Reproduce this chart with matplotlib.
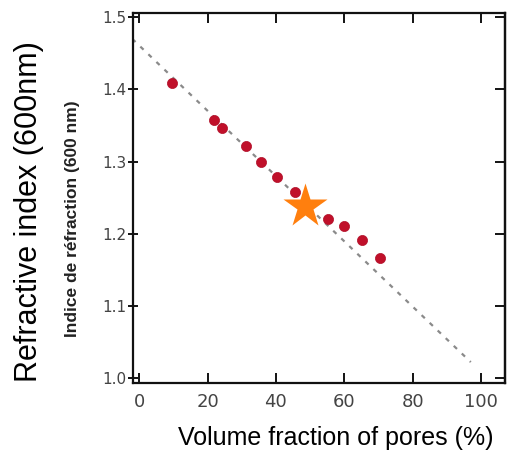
import matplotlib
matplotlib.use("Agg")
import matplotlib.pyplot as plt

# Measured porosity (%) and refractive index at 600 nm
porosity = [9.5, 22.0, 24.1, 31.2, 35.5, 40.3, 45.6, 55.2, 59.8, 65.1, 70.5]
refr_index = [1.409, 1.358, 1.347, 1.321, 1.299, 1.279, 1.258, 1.221, 1.210, 1.191, 1.166]

# Linear mixing trend line (end points)
trend_x = [-2.0, 97.0]
trend_y = [1.470, 1.022]

# Highlighted sample
star_x = [48.6]
star_y = [1.239]

x_ticks = [0, 20, 40, 60, 80, 100]
y_ticks = [1.0, 1.1, 1.2, 1.3, 1.4, 1.5]
y_tick_labels = ["1.0", "1.1", "1.2", "1.3", "1.4", "1.5"]

fig = plt.figure(figsize=(5.08, 4.63), dpi=100)
ax = fig.add_axes([0.2618, 0.1728, 0.7322, 0.7992])

ax.plot(trend_x, trend_y, color="#8a8a8a", lw=1.6, linestyle=(0, (2, 3)), zorder=1)
ax.plot(porosity, refr_index, "o", color="#c0102a", ms=7.3, mec="#b00f28", mew=0.5, zorder=2)
ax.plot(star_x, star_y, "*", color="#ff7f0e", ms=33, mec="none", zorder=3)

ax.set_xlim(-1.8, 107)
ax.set_ylim(0.993, 1.506)
ax.set_xticks(x_ticks)
ax.set_yticks(y_ticks)
ax.set_yticklabels(y_tick_labels)

for s in ax.spines.values():
    s.set_linewidth(1.6)
    s.set_color("#111111")

ax.tick_params(axis="x", direction="in", top=True, length=7, width=1.3,
               labelsize=13, labelcolor="#444444", pad=7)
ax.tick_params(axis="y", direction="inout", right=False, length=7, width=1.3,
               labelsize=11, labelcolor="#444444", pad=1)
ax2 = ax.secondary_yaxis("right")
ax2.set_yticks(y_ticks)
ax2.tick_params(axis="y", direction="in", length=7, width=1.3, labelright=False)
ax2.spines["right"].set_linewidth(1.6)

fig.text(0.057, 1 - 212 / 463, "Refractive index (600nm)", rotation=90,
         ha="center", va="center", fontsize=22, family="Liberation Sans")
fig.text(0.142, 1 - 219 / 463, "Indice de réfraction (600 nm)", rotation=90,
         ha="center", va="center", fontsize=12.5, fontweight="bold",
         family="Liberation Sans", color="#222222")
fig.text(336 / 508, 1 - 438 / 463, "Volume fraction of pores (%)",
         ha="center", va="center", fontsize=18, family="Liberation Sans")

fig.savefig("out.png", dpi=100)
